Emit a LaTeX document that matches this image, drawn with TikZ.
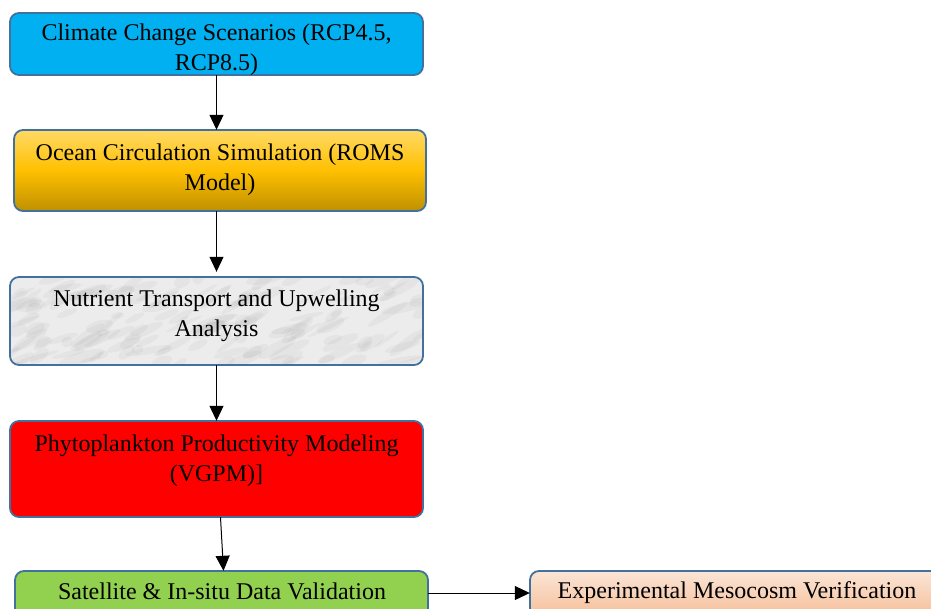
\documentclass[tikz,border=0pt]{standalone}
\usepackage{fontspec}
\setmainfont{Liberation Serif}
\usetikzlibrary{arrows.meta}
\definecolor{edgeblue}{HTML}{41719C}
\definecolor{skyfill}{HTML}{00B0F0}
\definecolor{goldtop}{HTML}{FFD966}
\definecolor{goldmid}{HTML}{FFC000}
\definecolor{goldbot}{HTML}{BF9000}
\definecolor{marble}{HTML}{ECECEC}
\definecolor{leafgreen}{HTML}{92D050}
\definecolor{peachtop}{HTML}{FBE5D6}
\definecolor{peachbot}{HTML}{F4B183}
\tikzset{
  flowbox/.style={draw=edgeblue, line width=1.8pt, rounded corners=9pt},
  boxarea/.style={inner sep=0pt},
  boxtext/.style={align=center, font=\fontsize{24}{30}\selectfont, inner sep=0pt},
  flowarrow/.style={-{Triangle[length=15pt,width=14pt]}, line width=1pt, black},
}
\begin{document}
\begin{tikzpicture}[x=1pt,y=-1pt]
\useasboundingbox (0,0) rectangle (931,608);
\clip (0,0) rectangle (931,608);

% climate scenarios
\draw[flowbox, fill=skyfill] (10,13) rectangle (423,75);
\node (b1) [boxarea, minimum width=413pt, minimum height=62pt] at (216.5,44) {};
\node (t1) [boxtext] at (216.5,50) {Climate Change Scenarios (RCP4.5,\\RCP8.5)};

% ocean circulation
\shade[top color=goldtop, bottom color=goldbot, middle color=goldmid, rounded corners=9pt] (14,130) rectangle (426,211);
\draw[flowbox] (14,130) rectangle (426,211);
\node (b2) [boxarea, minimum width=412pt, minimum height=81pt] at (220,170.5) {};
\node (t2) [boxtext] at (220,170) {Ocean Circulation Simulation (ROMS\\Model)};

% nutrient transport, marbled grey fill
\begin{scope}
  \clip[rounded corners=9pt] (10,277) rectangle (423,365);
  \fill[marble] (10,277) rectangle (423,365);
  \pgfmathsetseed{11}
  \foreach \i in {1,...,160}{
    \pgfmathsetmacro\xa{10+413*rnd}
    \pgfmathsetmacro\ya{277+88*rnd}
    \pgfmathsetmacro\ra{6+18*rnd}
    \pgfmathsetmacro\rb{2+4*rnd}
    \pgfmathsetmacro\rot{10+30*rnd}
    \fill[gray, opacity=0.07, rotate around={\rot:(\xa,\ya)}]
      (\xa,\ya) ellipse [x radius=\ra pt, y radius=\rb pt];
  }
\end{scope}
\draw[flowbox] (10,277) rectangle (423,365);
\node (b3) [boxarea, minimum width=413pt, minimum height=88pt] at (216.5,321) {};
\node (t3) [boxtext] at (216.5,316) {Nutrient Transport and Upwelling\\Analysis};

% productivity model
\draw[flowbox, fill=red] (10,421) rectangle (423,517);
\node (b4) [boxarea, minimum width=413pt, minimum height=96pt] at (216.5,469) {};
\node (t4) [boxtext] at (216.5,461) {Phytoplankton Productivity Modeling\\(VGPM)]};

% validation
\draw[flowbox, fill=leafgreen] (15,571) rectangle (428,633);
\node (b5) [boxarea, minimum width=413pt, minimum height=62pt] at (221.5,602) {};
\node (t5) [boxtext] at (222,591) {Satellite \& In-situ Data Validation};

% mesocosm verification
\shade[top color=peachtop, bottom color=peachbot, rounded corners=9pt] (530,571) rectangle (945,633);
\draw[flowbox] (530,571) rectangle (945,633);
\node (b6) [boxarea, minimum width=415pt, minimum height=62pt] at (737.5,602) {};
\node (t6) [boxtext] at (737,593) {Experimental Mesocosm Verification};

% connectors
\draw[flowarrow] (b1.south) -- (b1.south |- b2.north);
\draw[flowarrow] (b2.south -| b1.south) -- ([yshift=5pt]b1.south |- b3.north);
\draw[flowarrow] (b3.south) -- (b3.south |- b4.north);
\draw[flowarrow] ([xshift=4pt]b4.south) -- ([xshift=7pt]b4.south |- b5.north);
\draw[flowarrow] (b5.east |- 0,593) -- (b6.west |- 0,593);
\end{tikzpicture}
\end{document}
